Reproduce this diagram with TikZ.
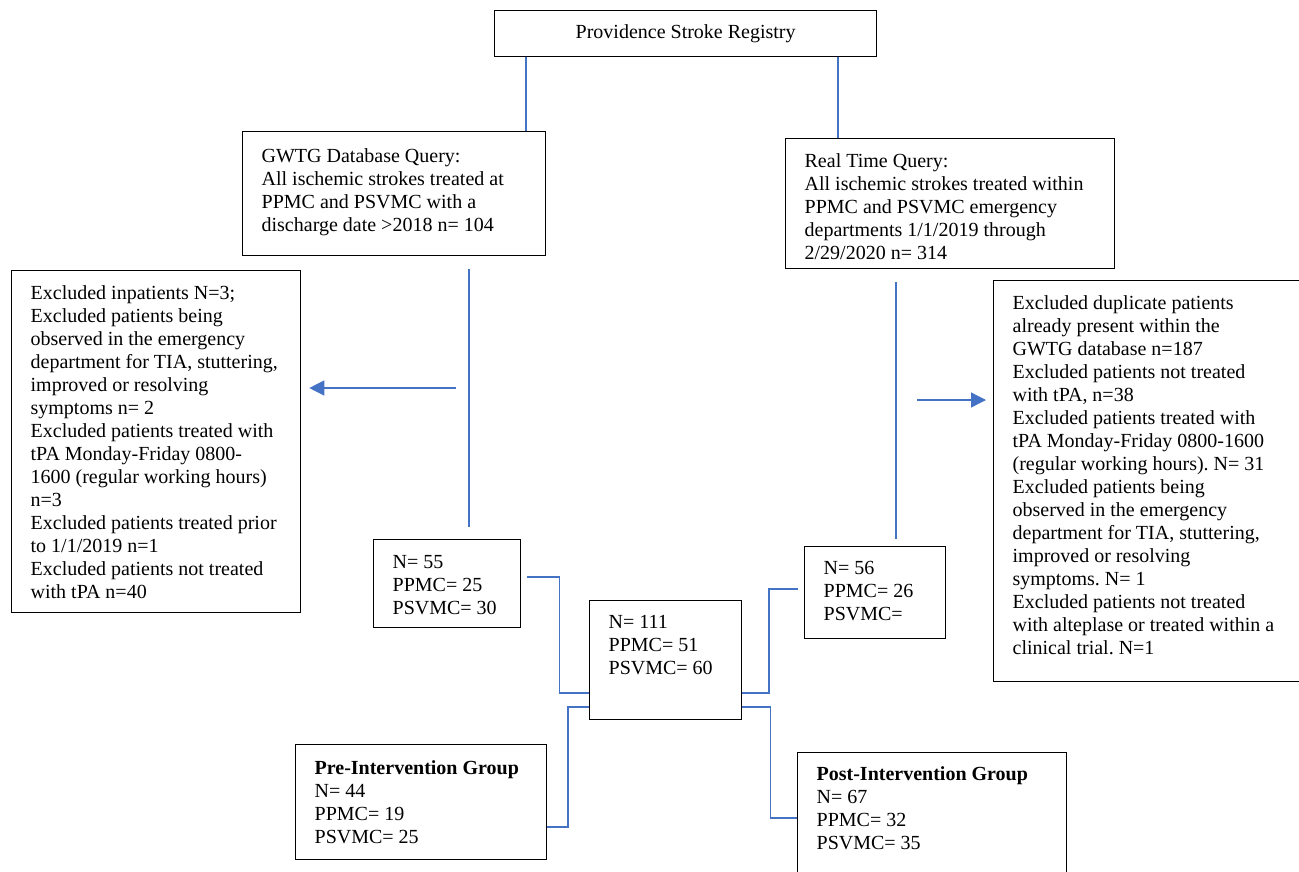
\documentclass[tikz,border=0pt]{standalone}
\usepackage{fontspec}
\setmainfont{Liberation Serif}
\usepackage{tikz}
\usetikzlibrary{calc}
\usetikzlibrary{arrows.meta}
\frenchspacing
\definecolor{linkblue}{RGB}{68,114,196}
\tikzstyle{flowbox} = [rectangle, draw=black, line width=1.3pt, anchor=north west, inner sep=0pt]
\tikzstyle{connector} = [draw=linkblue, line width=1.3pt]
\tikzstyle{arrow} = [connector, -{Triangle[length=15pt, width=15pt]}]
% box text: [first baseline]{height}{width}{lines}
\newcommand{\boxtxt}[4][29pt]{\parbox[t][#2][t]{#3}{\leftskip=19pt\rule{0pt}{#1}#4}}

\begin{document}
\begin{tikzpicture}[x=1pt, y=-1pt, every node/.style={font=\fontsize{20pt}{23pt}\selectfont}]
  \useasboundingbox (0,0) rectangle (1299,871);
  \fill[white] (0,0) rectangle (1299,871);
  \clip (0,0) rectangle (1299,871);

  \node(reg)[flowbox, minimum width=382pt, minimum height=46pt] at (494,10) {\raisebox{-3pt}{Providence Stroke Registry}};
  \node(gwtg)[flowbox] at (242,131) {\boxtxt[31pt]{124pt}{303pt}{GWTG Database Query:\\All ischemic strokes treated at\\PPMC and PSVMC with a\\discharge date >2018 n= 104}};
  \node(rtq)[flowbox] at (785,138) {\boxtxt{130pt}{329pt}{Real Time Query:\\All ischemic strokes treated within\\PPMC and PSVMC emergency\\departments 1/1/2019 through\\2/29/2020 n= 314}};
  \node(exl)[flowbox] at (11,270) {\boxtxt{342pt}{289pt}{Excluded inpatients N=3;\\Excluded patients being\\observed in the emergency\\department for TIA, stuttering,\\improved or resolving\\symptoms n= 2\\Excluded patients treated with\\tPA Monday-Friday 0800-\\1600 (regular working hours)\\n=3\\Excluded patients treated prior\\to 1/1/2019 n=1\\Excluded patients not treated\\with tPA n=40}};
  \node(exr)[flowbox] at (993,280) {\boxtxt{401pt}{340pt}{Excluded duplicate patients\\already present within the\\GWTG database n=187\\Excluded patients not treated\\with tPA, n=38\\Excluded patients treated with\\tPA Monday-Friday 0800-1600\\(regular working hours). N= 31\\Excluded patients being\\observed in the emergency\\department for TIA, stuttering,\\improved or resolving\\symptoms. N= 1\\Excluded patients not treated\\with alteplase or treated within a\\clinical trial. N=1}};
  \node(n55)[flowbox] at (373,539) {\boxtxt{88pt}{147pt}{N= 55\\PPMC= 25\\PSVMC= 30}};
  \node(n56)[flowbox] at (804,546) {\boxtxt[28pt]{92pt}{141pt}{N= 56\\PPMC= 26\\PSVMC=}};
  \node(tot)[flowbox] at (589,600) {\boxtxt[28pt]{119pt}{152pt}{N= 111\\PPMC= 51\\PSVMC= 60}};
  \node(pre)[flowbox] at (295,744) {\boxtxt[30pt]{115pt}{251pt}{\textbf{Pre-Intervention Group}\\N= 44\\PPMC= 19\\PSVMC= 25}};
  \node(post)[flowbox] at (797,752) {\boxtxt[28pt]{140pt}{269pt}{\textbf{Post-Intervention Group}\\N= 67\\PPMC= 32\\PSVMC= 35}};

  \draw[connector] ($(reg.south west)+(32,0)$) -- ($(gwtg.north west)+(284,0)$);
  \draw[connector] ($(reg.south west)+(344,0)$) -- ($(rtq.north west)+(53,0)$);
  \draw[connector] ($(gwtg.south west)+(227,13)$) -- ($(n55.north west)+(96,-12)$);
  \draw[connector] ($(rtq.south west)+(111,13)$) -- ($(n56.north west)+(92,-7)$);
  \draw[arrow] ($(exl.north east)+(155,118)$) -- ($(exl.north east)+(8,118)$);
  \draw[arrow] ($(exr.north west)+(-76,120)$) -- ($(exr.north west)+(-7,120)$);
  \draw[connector] ($(n55.north east)+(6,38)$) -- ++(32,0) |- ($(tot.north west)+(0,93)$);
  \draw[connector] ($(n56.north west)+(-6,43)$) -- ++(-29,0) |- ($(tot.north east)+(0,93)$);
  \draw[connector] ($(tot.north west)+(0,107)$) -- ++(-21,0) |- ($(pre.north east)+(0,83)$);
  \draw[connector] ($(tot.north east)+(0,107)$) -- ++(28,0) |- ($(post.north west)+(0,66)$);

\end{tikzpicture}
\end{document}
